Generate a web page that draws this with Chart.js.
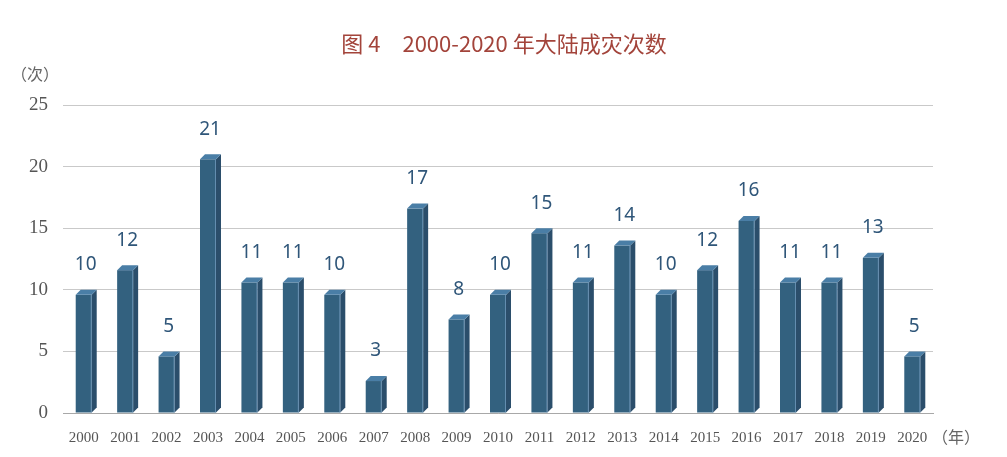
<!DOCTYPE html>
<html>
<head>
<meta charset="utf-8">
<script src="https://cdn.jsdelivr.net/npm/chart.js@4/dist/chart.umd.min.js"></script>
<style>
  html, body { margin: 0; padding: 0; background: #fff; }
  #wrap { position: relative; width: 1007px; height: 457px; }
</style>
</head>
<body>
<div id="wrap"><canvas id="chart"></canvas></div>
<script>
// ---- data ----
const years  = ['2000','2001','2002','2003','2004','2005','2006','2007','2008','2009','2010',
                '2011','2012','2013','2014','2015','2016','2017','2018','2019','2020'];
const counts = [10, 12, 5, 21, 11, 11, 10, 3, 17, 8, 10, 15, 11, 14, 10, 12, 16, 11, 11, 13, 5];
const yTicks = [0, 5, 10, 15, 20, 25];

const TITLE  = '图 4　2000-2020 年大陆成灾次数';
const Y_UNIT = '（次）';
const X_UNIT = '（年）';

const DEPTH = 5;

// bars are drawn as 3D boxes whose back-top edge sits on the value
const decor = {
  id: 'decor',
  afterDatasetsDraw(chart) {
    const ctx  = chart.ctx;
    const meta = chart.getDatasetMeta(0);
    ctx.save();
    meta.data.forEach(function(bar, i) {
      const half  = bar.width / 2;
      const left  = bar.x - half;
      const right = bar.x + half;
      const back  = bar.y;            // value line
      const front = bar.y + DEPTH;    // front face top
      const base  = bar.base;

      // front face
      ctx.fillStyle = '#33617f';
      ctx.fillRect(left, front, right - left, base - front);
      // side face
      ctx.fillStyle = '#2b4e6b';
      ctx.beginPath();
      ctx.moveTo(right, front);
      ctx.lineTo(right + DEPTH, back);
      ctx.lineTo(right + DEPTH, base - DEPTH);
      ctx.lineTo(right, base);
      ctx.closePath();
      ctx.fill();
      // top face
      ctx.fillStyle = '#4a7ea6';
      ctx.beginPath();
      ctx.moveTo(left, front);
      ctx.lineTo(left + DEPTH, back);
      ctx.lineTo(right + DEPTH, back);
      ctx.lineTo(right, front);
      ctx.closePath();
      ctx.fill();
      // light edge
      ctx.strokeStyle = 'rgba(120,160,195,0.7)';
      ctx.lineWidth = 1;
      ctx.beginPath();
      ctx.moveTo(right - 0.5, front);
      ctx.lineTo(right - 0.5, base);
      ctx.stroke();

      // value label
      ctx.fillStyle = '#2f5679';
      ctx.font = '19px "Noto Sans", "Noto Sans CJK SC", sans-serif';
      ctx.textAlign = 'center';
      ctx.textBaseline = 'middle';
      ctx.fillText(String(counts[i]), bar.x + 2, back - 25);
    });

    // title
    ctx.fillStyle = '#a3443b';
    ctx.font = '22px "Noto Sans CJK SC", "Noto Sans", sans-serif';
    ctx.textAlign = 'center';
    ctx.textBaseline = 'middle';
    ctx.fillText(TITLE, 504, 44);

    // axis units
    ctx.fillStyle = '#666';
    ctx.font = '16px "Noto Sans CJK SC", serif';
    ctx.textAlign = 'center';
    ctx.fillText(Y_UNIT, 35, 74);
    ctx.fillText(X_UNIT, 956, 437);
    ctx.restore();
  }
};

new Chart(document.getElementById('chart'), {
  type: 'bar',
  data: {
    labels: years,
    datasets: [{
      data: counts,
      backgroundColor: 'rgba(0,0,0,0)',
      barThickness: 16,
      borderWidth: 0
    }]
  },
  options: {
    responsive: true,
    maintainAspectRatio: false,
    animation: false,
    layout: { padding: { top: 105, right: 74, bottom: 0, left: 0 } },
    plugins: {
      legend: { display: false },
      tooltip: { enabled: false },
      title: { display: false }
    },
    scales: {
      x: {
        grid: { display: false, drawTicks: false },
        border: { color: '#a8a8a8', width: 1 },
        ticks: {
          color: '#555',
          padding: 16,
          maxRotation: 0,
          autoSkip: false,
          font: { family: '"Liberation Serif", serif', size: 15 }
        },
        afterFit: function(s) { s.height = 44; }
      },
      y: {
        min: 0, max: 25,
        afterBuildTicks: function(s) { s.ticks = yTicks.map(function(v) { return { value: v }; }); },
        grid: { color: '#c9c9c9', drawTicks: false },
        border: { display: false },
        ticks: {
          color: '#555',
          padding: 15,
          font: { family: '"Liberation Serif", serif', size: 19 }
        },
        afterFit: function(s) { s.width = 63; }
      }
    }
  },
  plugins: [decor]
});
</script>
</body>
</html>
